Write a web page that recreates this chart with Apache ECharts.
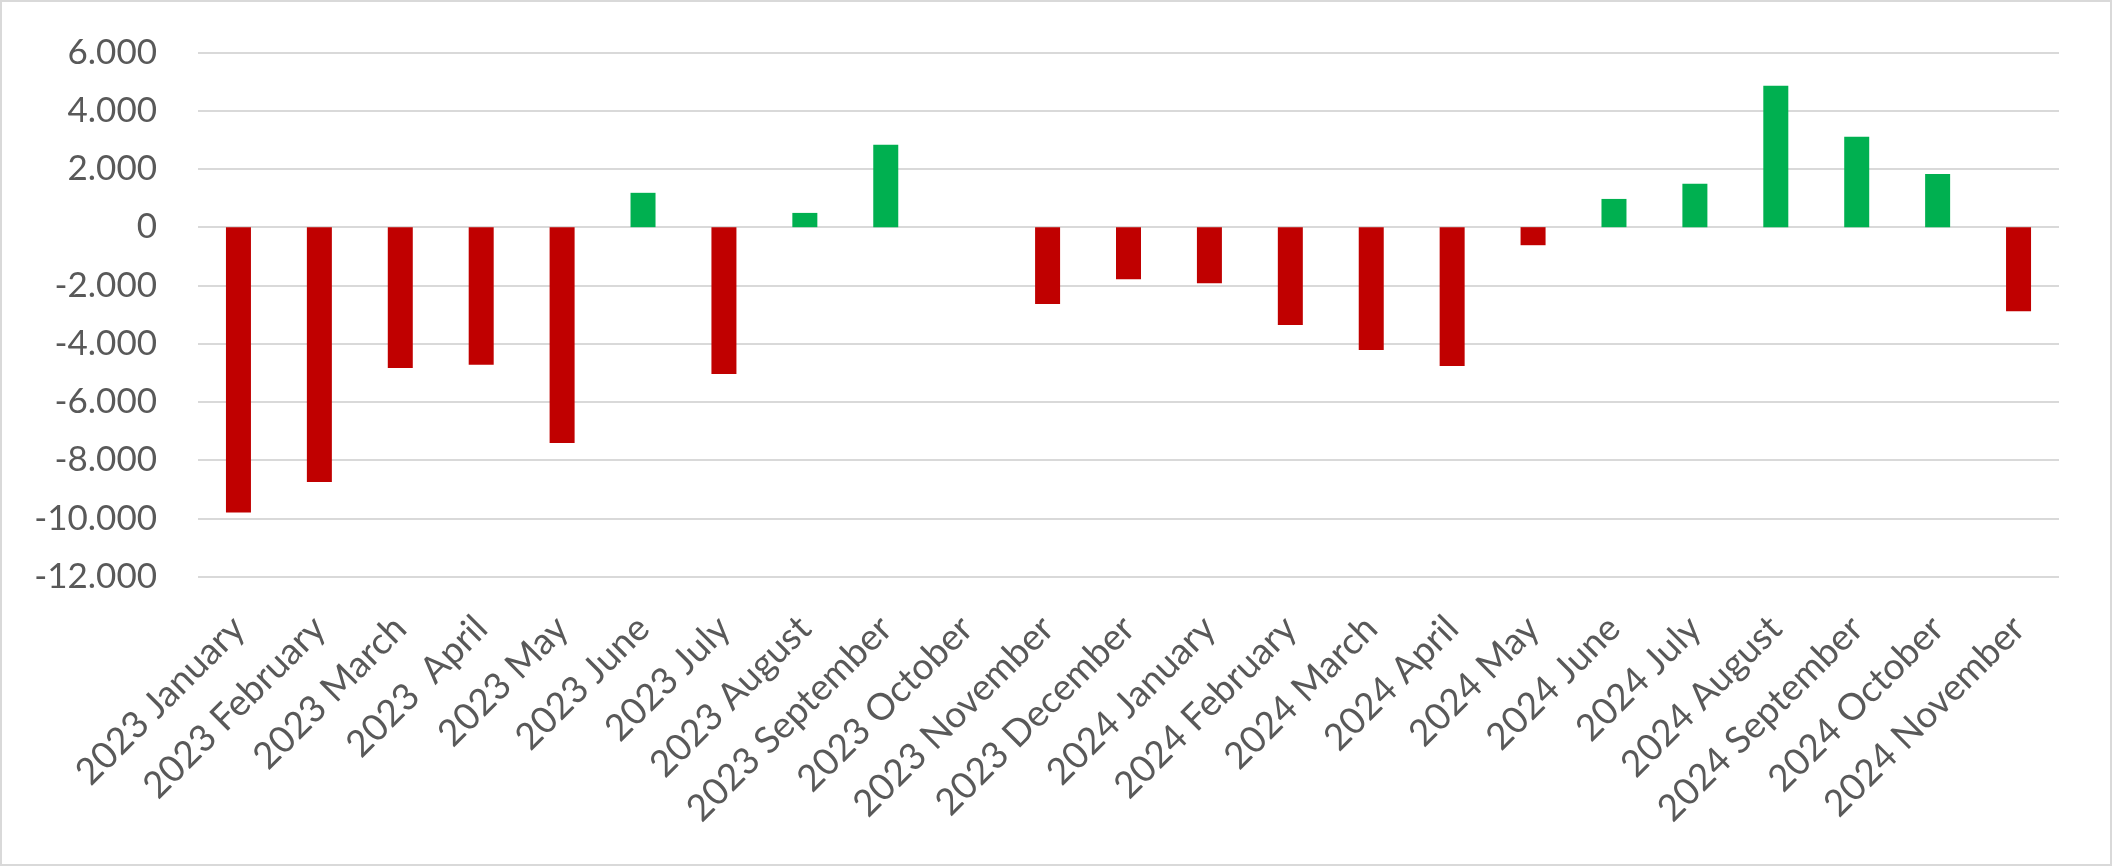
<!DOCTYPE html>
<html>
<head>
<meta charset="utf-8">
<script src="https://cdn.jsdelivr.net/npm/echarts@6/dist/echarts.min.js"></script>
<style>
html,body{margin:0;padding:0;background:#fff;}
#chart{width:2112px;height:866px;}
</style>
</head>
<body>
<div id="chart"></div>
<script>
const categories = [
  "2023 January","2023 February","2023 March","2023  April","2023 May","2023 June",
  "2023 July","2023 August","2023 September","2023 October","2023 November","2023 December",
  "2024 January","2024 February","2024 March","2024 April","2024 May","2024 June",
  "2024 July","2024 August","2024 September","2024 October","2024 November"
];
const values = [
  -9800, -8750, -4840, -4730, -7410, 1180,
  -5040, 490, 2830, 0, -2640, -1790,
  -1930, -3360, -4220, -4770, -620, 970,
  1490, 4860, 3110, 1830, -2890
];
const yTicks = { min: -12000, max: 6000, step: 2000 };
const colors = { negative: "#C00000", positive: "#00B050" };

function fmt(v) {
  if (v === 0) return "0";
  const s = String(Math.abs(v)).replace(/\B(?=(\d{3})+(?!\d))/g, ".");
  return (v < 0 ? "-" : "") + s;
}

const chart = echarts.init(document.getElementById("chart"), null, { renderer: "canvas" });
chart.setOption({
  animation: false,
  backgroundColor: "#ffffff",
  graphic: [{
    type: "rect",
    shape: { x: 1, y: 1, width: 2110, height: 864 },
    style: { fill: "none", stroke: "#d9d9d9", lineWidth: 2 },
    silent: true
  }],
  grid: { left: 198, right: 53, top: 52.5, bottom: 289.5, containLabel: false },
  xAxis: {
    type: "category",
    data: categories,
    axisLine: { show: false },
    axisTick: { show: false },
    axisLabel: {
      interval: 0,
      rotate: 45,
      margin: 46,
      color: "#595959",
      fontFamily: "Lato",
      fontSize: 37
    }
  },
  yAxis: {
    type: "value",
    min: yTicks.min,
    max: yTicks.max,
    interval: yTicks.step,
    axisLine: { show: false },
    axisTick: { show: false },
    splitLine: { lineStyle: { color: "#d9d9d9", width: 2 } },
    axisLabel: {
      margin: 41,
      color: "#595959",
      fontFamily: "Lato",
      fontSize: 35,
      formatter: fmt
    }
  },
  series: [{
    type: "bar",
    data: values,
    barWidth: 25,
    itemStyle: {
      color: p => (p.value < 0 ? colors.negative : colors.positive)
    }
  }]
});
</script>
</body>
</html>
